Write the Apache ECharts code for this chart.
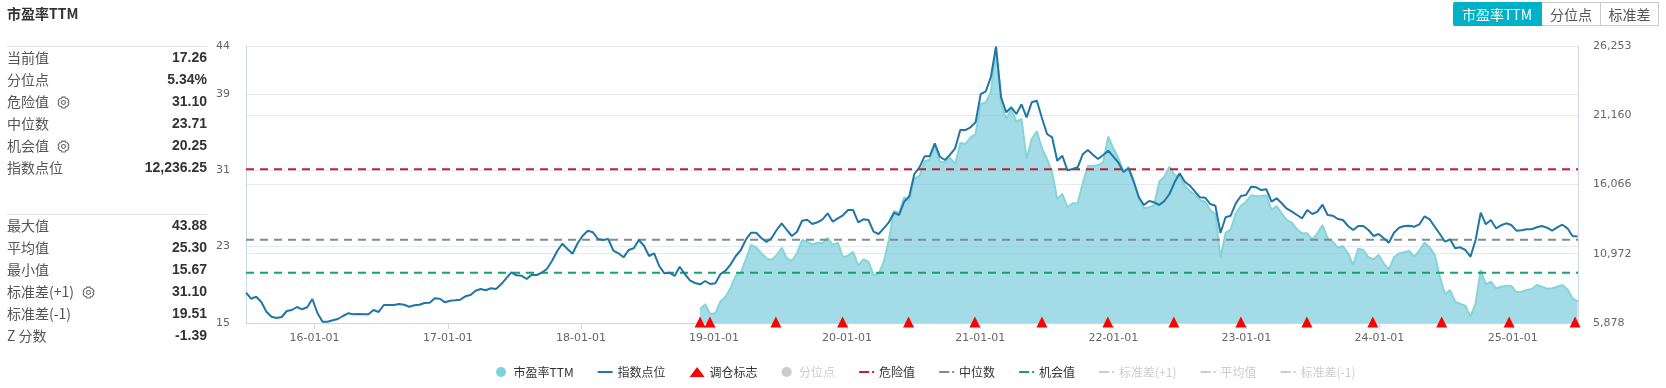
<!DOCTYPE html>
<html>
<head>
<meta charset="utf-8">
<title>市盈率TTM</title>
<script src="https://cdn.jsdelivr.net/npm/echarts@6/dist/echarts.min.js"></script>
<style>
html,body{margin:0;padding:0;background:#fff;}
#wrap{position:relative;width:1666px;height:388px;overflow:hidden;font-family:"Noto Sans CJK SC","Noto Sans",sans-serif;}
#chart{position:absolute;left:0;top:0;width:1666px;height:388px;}
#title{position:absolute;left:7px;top:3px;font-size:14px;line-height:20px;font-weight:bold;color:#333;}
.block{position:absolute;left:7px;width:200px;border-top:1px solid #dfe3ea;}
.row{height:22px;line-height:22px;font-size:14px;color:#555;position:relative;top:-1px;}
.row b{position:absolute;right:0;top:0;font:bold 14px "Liberation Sans",sans-serif;line-height:22px;color:#333;}
.row svg{vertical-align:-2px;margin-left:5px;}
#tabs{position:absolute;left:1453px;top:2px;height:24px;display:flex;font-size:14px;line-height:22px;color:#555;}
#tabs div{border:1px solid #ccc;border-left:none;padding:0;text-align:center;box-sizing:border-box;height:24px;}
#tabs div.on{background:#00b2c8;color:#fff;border-color:#00b2c8;border-radius:2px 0 0 2px;}
</style>
</head>
<body>
<div id="wrap">
  <div id="chart"></div>
  <div id="title">市盈率TTM</div>
  <div class="block" id="block1" style="top:46px"></div>
  <div class="block" id="block2" style="top:214px"></div>
  <div id="tabs"></div>
</div>
<script>
// every sample is 14 days after the one before it
var firstDate = '2015-06-27';
var lastDate = '2025-06-29';
var stepDays = 14;

var indexValues = [
8107,7665,7812,7423,6709,6341,6246,6319,6761,6834,7055,6886,7033,7643,6614,5974,5974,6077,6172,6393,
6591,6518,6540,6518,6518,6834,6687,7202,7202,7202,7275,7224,7077,7180,7224,7349,7371,7695,7665,7400,
7518,7548,7592,7842,7937,8254,8379,8283,8430,8379,8724,9166,9607,9386,9357,9114,9430,9408,9578,9872,
10460,11174,11711,11321,10975,11740,12299,12667,12549,12056,11983,12056,11196,11004,10710,11247,11372,11983,11563,10806,
11004,10070,9533,9578,9335,10019,9482,9019,8820,8724,8967,8746,8798,9482,9725,10195,10806,11247,12034,12520,
12520,12130,11836,12108,12718,13211,12718,12277,12593,13402,13476,13159,13284,13505,13946,13329,13579,13799,14189,14189,
13284,13505,13454,12593,12424,12843,13284,13991,13821,14800,15197,16837,17330,18139,18139,19095,18109,17867,18256,18727,
20073,20073,20272,20639,22721,22920,23971,26200,22478,21375,21743,21250,21963,21007,22110,22228,20956,19779,19536,17815,
18183,17109,17205,17330,18286,18602,18256,17940,18234,18551,18109,17668,16984,17256,16271,15123,14557,14851,14755,14557,
14851,15366,16226,16888,16271,15976,15535,15123,15094,14630,14505,12498,13652,13770,14682,15219,15292,15903,15859,15660,
15712,14800,15050,14682,14285,14064,13821,13579,14189,13895,14064,14579,13821,13770,13527,13454,13012,12718,13012,13012,
12718,12277,12424,12108,11784,12520,12887,13012,13035,12961,13137,13726,13505,12961,12424,11858,12034,11372,11446,11247,
10754,11983,13991,13137,13454,12843,13064,13211,13086,12667,12696,12770,12770,12917,13012,12887,12667,12917,13108,12843,
12277,12236.25
];

// PE data only starts at sample number 89 (late 2018)
var peStartIndex = 89;
var peValues = [
16.43,16.96,15.94,16.02,17.27,17.75,18.70,19.95,20.31,21.70,23.17,22.92,22.30,21.77,21.60,22.09,22.88,21.77,21.52,22.30,
23.69,23.51,23.24,23.41,23.34,23.90,23.17,23.41,21.88,22.05,22.46,21.04,21.67,21.42,20.03,20.13,21.42,23.69,26.73,26.52,
28.16,27.80,30.08,30.42,31.93,32.10,33.56,31.89,31.82,32.27,31.65,33.84,33.74,34.44,34.79,37.93,38.11,39.15,43.88,37.93,
36.36,37.40,36.07,36.36,32.17,34.26,35.07,33.29,32.17,30.78,27.98,28.51,27.11,27.53,27.53,29.63,31.44,31.44,31.54,31.82,
34.50,33.29,32.24,30.84,31.36,29.79,28.05,27.01,27.11,27.35,29.79,30.32,31.36,30.49,30.32,29.37,28.82,28.40,27.88,27.70,
26.83,26.41,21.80,24.45,24.81,26.48,27.28,27.70,28.37,28.26,28.30,28.37,26.83,27.25,26.48,25.78,25.50,24.81,24.39,24.39,
23.76,24.39,25.26,23.87,23.51,22.88,23.06,22.30,21.07,22.78,22.64,21.88,21.67,22.12,21.25,20.62,21.88,22.30,22.40,22.54,
21.94,22.64,23.41,22.92,22.12,19.85,18.04,18.45,17.23,16.99,16.81,15.67,17.06,20.55,19.05,19.32,18.63,18.80,18.90,18.90,
18.21,18.28,18.45,18.56,18.98,18.80,18.59,18.63,18.80,18.98,18.53,17.59,17.26
];

var rebalanceDates = ['2018-11-24','2018-12-21','2019-06-20','2019-12-20','2020-06-18','2020-12-17','2021-06-19','2021-12-17',
    '2022-06-16','2022-12-17','2023-06-16','2023-12-14','2024-06-20','2024-12-22','2025-06-21'];

var dangerValue = 31.10, medianValue = 23.71, chanceValue = 20.25;
var plusOneValue = 31.10, averageValue = 25.30, minusOneValue = 19.51;

var peTicks = [15, 23, 31, 39, 44];
var indexTicks = [5878, 10972, 16066, 21160, 26253];

var legendNames = ['市盈率TTM','指数点位','调仓标志','分位点','危险值','中位数','机会值','标准差(+1)','平均值','标准差(-1)'];

var statsTop = [['当前值','17.26'],['分位点','5.34%'],['危险值','31.10',1],['中位数','23.71'],['机会值','20.25',1],['指数点位','12,236.25']];
var statsBottom = [['最大值','43.88'],['平均值','25.30'],['最小值','15.67'],['标准差(+1)','31.10',1],['标准差(-1)','19.51'],['Z 分数','-1.39']];
var tabNames = [['市盈率TTM',89],['分位点',59],['标准差',58]];

var gear = '<svg width="13" height="13" viewBox="0 0 12 12"><path d="M4.5 1h3l.6 1.4 1.5.2L11 4.6 10.2 6l.8 1.4-1.4 2-1.5.2L7.5 11h-3l-.6-1.4-1.5-.2L1 7.4 1.8 6 1 4.6l1.4-2 1.5-.2z" fill="none" stroke="#666"/><circle cx="6" cy="6" r="1.8" fill="none" stroke="#666"/></svg>';

function fillBlock(id, rows) {
    var html = '';
    for (var i = 0; i < rows.length; i++) {
        html += '<div class="row">' + rows[i][0] + (rows[i][2] ? ' ' + gear : '') + '<b>' + rows[i][1] + '</b></div>';
    }
    document.getElementById(id).innerHTML = html;
}
fillBlock('block1', statsTop);
fillBlock('block2', statsBottom);

var tabHtml = '';
for (var t = 0; t < tabNames.length; t++) {
    tabHtml += '<div' + (t == 0 ? ' class="on"' : '') + ' style="width:' + tabNames[t][1] + 'px">' + tabNames[t][0] + '</div>';
}
document.getElementById('tabs').innerHTML = tabHtml;

var startTime = echarts.time.parse(firstDate).getTime();
var endTime = echarts.time.parse(lastDate).getTime();
var dates = [];
for (var i = 0; i < indexValues.length; i++) {
    dates.push(startTime + i * stepDays * 86400000);
}

function zipDates(values, offset) {
    var out = [];
    for (var i = 0; i < values.length; i++) {
        out.push([dates[i + offset], values[i]]);
    }
    return out;
}

function flatLine(name, value, color) {
    return {
        name: name,
        type: 'line',
        symbol: 'none',
        silent: true,
        data: [[startTime, value], [endTime, value]],
        itemStyle: {color: color},
        lineStyle: {color: color, width: 2, type: [8, 6]},
        z: 3
    };
}

var lightLine = '#e6e9ee', axisColor = '#cdd6e4', labelColor = '#666';
var axisFont = 'DejaVu Sans';
var oneYear = 365 * 86400000;

// legend keys: the zero-length bits keep the path box at 15x10 so nothing gets stretched
var solidKey = 'path://M0 0L0 0M0 4H15V6H0ZM15 10L15 10';
var dashKey = 'path://M0 0L0 0M0 4H10V6H0ZM13 4H15V6H13ZM15 10L15 10';

var chart = echarts.init(document.getElementById('chart'));
chart.setOption({
    animation: false,
    backgroundColor: '#fff',
    grid: {left: 246, right: 88, top: 46, bottom: 65},
    legend: {
        left: 491,
        top: 361,
        itemWidth: 15,
        itemHeight: 10,
        itemGap: 24,
        textStyle: {fontSize: 12, color: '#333', fontFamily: 'Noto Sans CJK SC'},
        inactiveColor: '#ccc',
        data: [
            {name: legendNames[0], icon: 'circle'},
            {name: legendNames[1], icon: solidKey},
            {name: legendNames[2], icon: 'triangle'},
            {name: legendNames[3], icon: 'circle'},
            {name: legendNames[4], icon: dashKey},
            {name: legendNames[5], icon: dashKey},
            {name: legendNames[6], icon: dashKey},
            {name: legendNames[7], icon: dashKey},
            {name: legendNames[8], icon: dashKey},
            {name: legendNames[9], icon: dashKey}
        ],
        selected: {'分位点': false, '标准差(+1)': false, '平均值': false, '标准差(-1)': false}
    },
    xAxis: {
        type: 'time',
        min: startTime,
        max: endTime,
        splitNumber: 10,
        minInterval: oneYear,
        maxInterval: oneYear,
        axisLine: {lineStyle: {color: axisColor}},
        axisTick: {show: true, length: 6, lineStyle: {color: axisColor}},
        axisLabel: {
            color: labelColor,
            fontSize: 11,
            fontFamily: axisFont,
            margin: 10,
            showMinLabel: false,
            showMaxLabel: false,
            hideOverlap: false,
            formatter: function (v) {
                return echarts.time.format(v, '{yy}-{MM}-{dd}');
            }
        },
        splitLine: {show: false}
    },
    yAxis: [
        {
            type: 'value',
            min: peTicks[0],
            max: peTicks[peTicks.length - 1],
            axisLine: {show: true, lineStyle: {color: axisColor}},
            axisTick: {show: false, customValues: peTicks},
            axisLabel: {color: labelColor, fontSize: 11, fontFamily: axisFont, margin: 16, customValues: peTicks},
            splitLine: {show: true, lineStyle: {color: lightLine}}
        },
        {
            type: 'value',
            min: indexTicks[0],
            max: indexTicks[indexTicks.length - 1],
            axisLine: {show: true, lineStyle: {color: axisColor}},
            axisTick: {show: false, customValues: indexTicks},
            axisLabel: {
                color: labelColor,
                fontSize: 11,
                fontFamily: axisFont,
                margin: 15,
                customValues: indexTicks,
                formatter: function (v) {
                    return echarts.format.addCommas(v);
                }
            },
            splitLine: {show: true, lineStyle: {color: lightLine}}
        }
    ],
    series: [
        {
            name: legendNames[0],
            type: 'line',
            symbol: 'none',
            data: zipDates(peValues, peStartIndex),
            itemStyle: {color: '#7fd1da'},
            lineStyle: {color: '#86d4da', width: 2},
            areaStyle: {color: '#72c9d8', opacity: 0.65},
            z: 2
        },
        {
            name: legendNames[1],
            type: 'line',
            yAxisIndex: 1,
            symbol: 'none',
            data: zipDates(indexValues, 0),
            itemStyle: {color: '#1f77a5'},
            lineStyle: {color: '#1f77a5', width: 2},
            z: 4
        },
        {
            name: legendNames[2],
            type: 'scatter',
            symbol: 'triangle',
            symbolSize: [11, 11],
            symbolOffset: [0, -1],
            clip: false,
            itemStyle: {color: '#ff0000', opacity: 1},
            data: rebalanceDates.map(function (d) { return [echarts.time.parse(d).getTime(), peTicks[0]]; }),
            z: 5
        },
        {
            name: legendNames[3],
            type: 'line',
            symbol: 'none',
            data: [],
            itemStyle: {color: '#ccc'}
        },
        flatLine(legendNames[4], dangerValue, '#c2212c'),
        flatLine(legendNames[5], medianValue, '#7f8b96'),
        flatLine(legendNames[6], chanceValue, '#12a566'),
        flatLine(legendNames[7], plusOneValue, '#ccc'),
        flatLine(legendNames[8], averageValue, '#ccc'),
        flatLine(legendNames[9], minusOneValue, '#ccc')
    ]
});
</script>
</body>
</html>
